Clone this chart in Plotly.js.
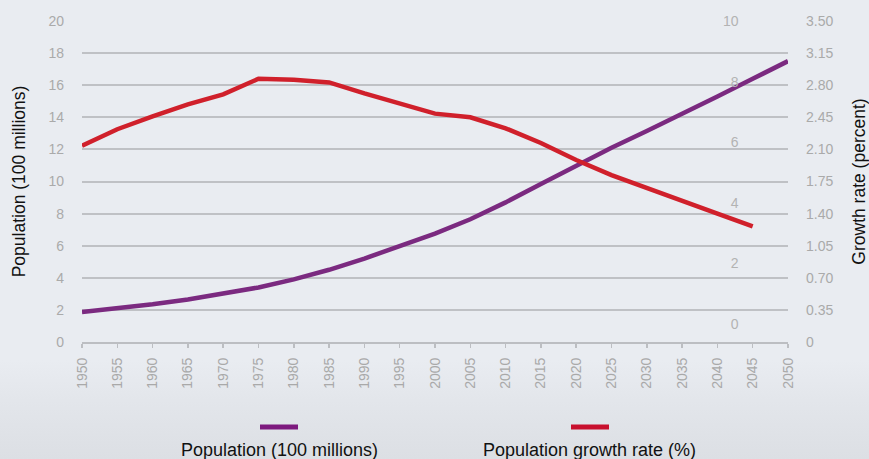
<!DOCTYPE html>
<html>
<head>
<meta charset="utf-8">
<script src="https://cdn.plot.ly/plotly-3.0.1.min.js"></script>
<style>
  html, body { margin: 0; padding: 0; }
  body { width: 869px; height: 459px; overflow: hidden;
    background: linear-gradient(to bottom, #e9ecf1 0px, #e9ecf1 360px, #e3e6eb 400px, #dcdfe4 459px); }
  #chart { width: 869px; height: 459px; }
</style>
</head>
<body>
<div id="chart"></div>
<script>
const years = [1950,1955,1960,1965,1970,1975,1980,1985,1990,1995,2000,2005,2010,2015,2020,2025,2030,2035,2040,2045,2050];
const population = [1.87,2.1,2.35,2.65,3.0,3.4,3.9,4.5,5.2,5.95,6.75,7.65,8.7,9.85,11.0,12.1,13.15,14.2,15.3,16.4,17.5];
const growthYears = [1950,1955,1960,1965,1970,1975,1980,1985,1990,1995,2000,2005,2010,2015,2020,2025,2030,2035,2040,2045];
const growthRate = [2.14,2.32,2.46,2.59,2.70,2.87,2.86,2.83,2.71,2.60,2.49,2.45,2.33,2.17,1.985,1.82,1.676,1.54,1.40,1.26];
const leftTicks = [0,2,4,6,8,10,12,14,16,18,20];
const rightTickVals = [0,0.35,0.70,1.05,1.40,1.75,2.10,2.45,2.80,3.15,3.50];
const rightTickText = ["0","0.35","0.70","1.05","1.40","1.75","2.10","2.45","2.80","3.15","3.50"];
const innerTicks = [0,2,4,6,8,10];
const seriesNames = ["Population (100 millions)", "Population growth rate (%)"];
const seriesColors = ["#7b2a80", "#d0202b"];
const legendColors = ["#7d1a7e", "#c8102e"];

const FONT = "Liberation Sans, Arial, Helvetica, sans-serif";

const traces = [
  { x: years, y: population, name: seriesNames[0], type: "scatter", mode: "lines",
    line: { color: seriesColors[0], width: 4.5 }, yaxis: "y", showlegend: false },
  { x: growthYears, y: growthRate, name: seriesNames[1], type: "scatter", mode: "lines",
    line: { color: seriesColors[1], width: 4.5 }, yaxis: "y2", showlegend: false },
  { x: [], y: [], type: "scatter", mode: "lines", yaxis: "y3", showlegend: false, hoverinfo: "skip" }
];

const layout = {
  width: 869, height: 459,
  margin: { l: 82, r: 81, t: 21, b: 117 },
  paper_bgcolor: "rgba(0,0,0,0)",
  plot_bgcolor: "rgba(0,0,0,0)",
  font: { family: FONT, color: "#aaaaaa", size: 13 },
  showlegend: false,
  xaxis: {
    range: [1950, 2050], tickvals: years, ticktext: years.map(String),
    tickangle: -90, ticks: "outside", ticklen: 4, tickcolor: "#bcbec2", tickwidth: 1.5,
    showline: true, linecolor: "#bcbec2", linewidth: 2, showgrid: false, zeroline: false,
    tickfont: { family: FONT, size: 14, color: "#a9a9a9" }, ticklabelstandoff: 4
  },
  yaxis: {
    range: [0, 20], tickvals: leftTicks, showgrid: true, gridcolor: "#bfc1c5", gridwidth: 2,
    zeroline: false, showline: false, ticks: "", ticklabelstandoff: 17,
    tickfont: { family: FONT, size: 14, color: "#aaaaaa" },
    title: { text: "Population (100 millions)", font: { family: FONT, size: 17.5, color: "#111111" }, standoff: 18 }
  },
  yaxis2: {
    range: [0, 3.5], tickvals: rightTickVals, ticktext: rightTickText, overlaying: "y", side: "right",
    showgrid: false, zeroline: false, showline: false, ticks: "", ticklabelstandoff: 17,
    tickfont: { family: FONT, size: 14, color: "#aaaaaa" },
    title: { text: "Growth rate (percent)", font: { family: FONT, size: 17.5, color: "#111111" }, standoff: 22 }
  },
  yaxis3: {
    range: [-0.594, 10.001], tickvals: innerTicks, overlaying: "y", anchor: "free", position: 0.93, side: "left",
    showgrid: false, zeroline: false, showline: false, ticks: "", ticklabelstandoff: 0, visible: true,
    tickfont: { family: FONT, size: 14, color: "#b3b3b3" }
  },
  shapes: [
    { type: "line", xref: "paper", yref: "paper", x0: (260-82)/706, x1: (298-82)/706,
      y0: (342-427)/321, y1: (342-427)/321, line: { color: legendColors[0], width: 5 } },
    { type: "line", xref: "paper", yref: "paper", x0: (571-82)/706, x1: (609-82)/706,
      y0: (342-427)/321, y1: (342-427)/321, line: { color: legendColors[1], width: 5 } }
  ],
  annotations: [
    { xref: "paper", yref: "paper", x: (279-82)/706, y: (342-450)/321, text: seriesNames[0],
      showarrow: false, xanchor: "center", yanchor: "middle", font: { family: FONT, size: 18, color: "#111111" } },
    { xref: "paper", yref: "paper", x: (589-82)/706, y: (342-450)/321, text: seriesNames[1],
      showarrow: false, xanchor: "center", yanchor: "middle", font: { family: FONT, size: 18, color: "#111111" } }
  ]
};

Plotly.newPlot("chart", traces, layout, { displayModeBar: false, staticPlot: true });
</script>
</body>
</html>
